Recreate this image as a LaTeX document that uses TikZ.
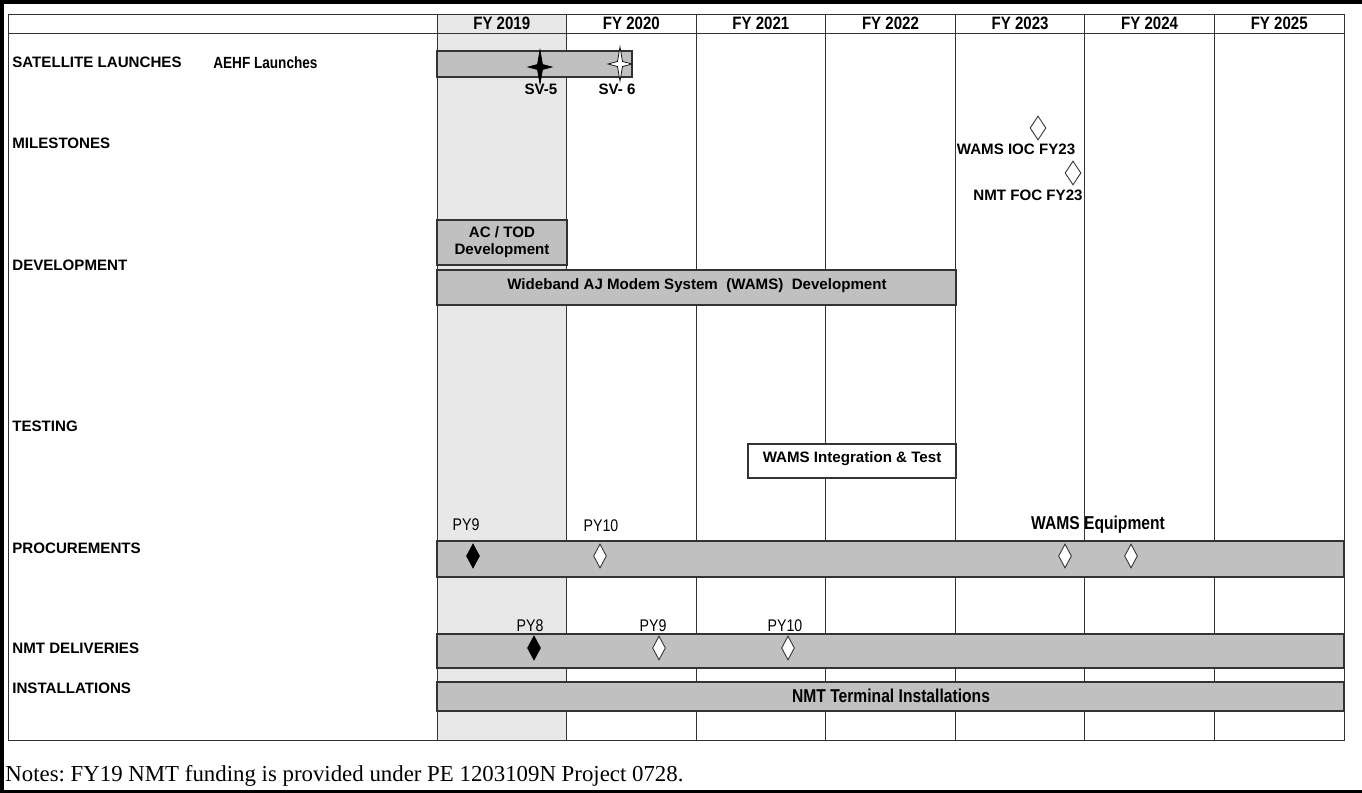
\documentclass[tikz,border=0pt]{standalone}
\usepackage{fontspec}
\setmainfont{Liberation Sans}
\newfontfamily\narrowfont[FakeStretch=0.84]{Liberation Sans}
\newfontfamily\notefont{Liberation Serif}
\usepackage{xcolor}
\usetikzlibrary{positioning, shapes}
\definecolor{bargray}{HTML}{C0C0C0}
\definecolor{colgray}{HTML}{E8E8E8}
\definecolor{rulegray}{HTML}{333333}
\tikzstyle{bar} = [draw=rulegray, fill=bargray, line width=0.8pt]
\tikzstyle{grid} = [draw=rulegray, line width=0.5pt]
\tikzstyle{rowlabel} = [anchor=west, inner sep=0pt, font=\bfseries\fontsize{8.6}{10}\selectfont]
\tikzstyle{yearlabel} = [inner sep=0pt, font=\narrowfont\bfseries\fontsize{10.2}{11}\selectfont]
\tikzstyle{barlabel} = [inner sep=0pt, align=center, font=\bfseries\fontsize{8.6}{9.5}\selectfont]
\tikzstyle{narrowlabel} = [inner sep=0pt, font=\narrowfont\bfseries\fontsize{10.6}{11}\selectfont]
\tikzstyle{pylabel} = [inner sep=0pt, font=\narrowfont\fontsize{9.6}{10}\selectfont]
\tikzstyle{openmark} = [diamond, draw=rulegray, fill=white, line width=0.5pt,
    minimum width=0.26cm, minimum height=0.48cm, inner sep=0pt]
\tikzstyle{fullmark} = [openmark, draw=black, fill=black]
\tikzset{launchstar/.pic={
    \path[pic actions] (0,-17) -- (2.5,-2.5) -- (12,0) -- (2.5,2.5) -- (0,17)
      -- (-2.5,2.5) -- (-12,0) -- (-2.5,-2.5) -- cycle;}}

\begin{document}
\begin{tikzpicture}[x=0.02cm, y=-0.02cm]
      \useasboundingbox (0,0) rectangle (1362,793);
      % page edge
      \fill[black] (0,0) rectangle (1362,4);
      \fill[black] (0,0) rectangle (4,793);
      \fill[black] (0,790) rectangle (1362,793);

      % FY 2019 column and grid
      \fill[colgray] (437,14) rectangle (567,740);
      \draw[grid] (8,14) rectangle (1344,740);
      \draw[grid] (8,33) -- (1344,33);
      \foreach \k in {0,...,7}
        \draw[grid] ({437+129.57*\k},14) -- ({437+129.57*\k},740);
      \foreach \yr [count=\k] in {2019,...,2025}
        \node[yearlabel] (fy\yr) at ({437+129.57*\k-64.8},23) {FY \yr};

      % Row labels
      \node[rowlabel] (launch) at (12,62) {SATELLITE LAUNCHES};
      \node[rowlabel, font=\narrowfont\bfseries\fontsize{9.2}{10}\selectfont] (aehf) at (213,63) {AEHF Launches};
      \node[rowlabel] (miles) at (12,143) {MILESTONES};
      \node[rowlabel] (devel) at (12,265) {DEVELOPMENT};
      \node[rowlabel] (testing) at (12,426) {TESTING};
      \node[rowlabel] (procure) at (12,548) {PROCUREMENTS};
      \node[rowlabel] (deliver) at (12,648) {NMT DELIVERIES};
      \node[rowlabel] (install) at (12,688) {INSTALLATIONS};

      % Satellite launches
      \draw[bar] (437,51) rectangle (632,77);
      \coordinate (sv5) at (540,67);
      \coordinate (sv6) at (620,64);
      \pic[draw=black, fill=black, line width=0.4pt] at (sv5) {launchstar};
      \pic[draw=black, fill=white, line width=0.4pt] at (sv6) {launchstar};
      \node[barlabel] (sv5lbl) at (541,89) {SV-5};
      \node[barlabel] (sv6lbl) at (617,89) {SV- 6};

      % Milestones
      \node[openmark, minimum width=0.32cm] (ioc) at (1038,128) {};
      \node[barlabel] (ioclbl) at (1016,149) {WAMS IOC FY23};
      \node[openmark, minimum width=0.32cm] (foc) at (1073,173) {};
      \node[barlabel] (foclbl) at (1028,195) {NMT FOC FY23};

      % Development
      \draw[bar] (437,220) rectangle (567,265);
      \node[barlabel] (actod) at (502,242) {AC / TOD\\Development};
      \draw[bar] (437,270) rectangle (956,305);
      \node[barlabel] (wamsdev) at (697,286) {Wideband AJ Modem System~~(WAMS)~~Development};

      % Testing
      \draw[grid, fill=white, line width=0.8pt] (748,444) rectangle (956,478);
      \node[barlabel] (wamstest) at (852,459) {WAMS Integration \& Test};

      % Procurements
      \draw[bar] (437,541) rectangle (1344,577);
      \node[fullmark] (pp9) at (473,556) {};
      \node[openmark] (pp10) at (600,556) {};
      \node[openmark] (eq1) at (1065,556) {};
      \node[openmark] (eq2) at (1131,556) {};
      \node[pylabel] (pp9lbl) at (466,525) {PY9};
      \node[pylabel] (pp10lbl) at (601,526) {PY10};
      \node[narrowlabel] (eqlbl) at (1098,525) {WAMS Equipment};

      % NMT deliveries
      \draw[bar] (437,634) rectangle (1344,668);
      \node[fullmark] (dd8) at (534,648) {};
      \node[openmark] (dd9) at (659,648) {};
      \node[openmark] (dd10) at (788,648) {};
      \node[pylabel] (dd8lbl) at (530,626) {PY8};
      \node[pylabel] (dd9lbl) at (653,626) {PY9};
      \node[pylabel] (dd10lbl) at (785,626) {PY10};

      % Installations
      \draw[bar] (437,682) rectangle (1344,711);
      \node[narrowlabel] (nmtinst) at (891,696) {NMT Terminal Installations};

      % Notes
      \node[anchor=west, inner sep=0pt, font=\notefont\fontsize{13}{15}\selectfont] (notes) at (5,776)
        {\frenchspacing Notes: FY19 NMT funding is provided under PE 1203109N Project 0728.};
    \end{tikzpicture}
\end{document}
